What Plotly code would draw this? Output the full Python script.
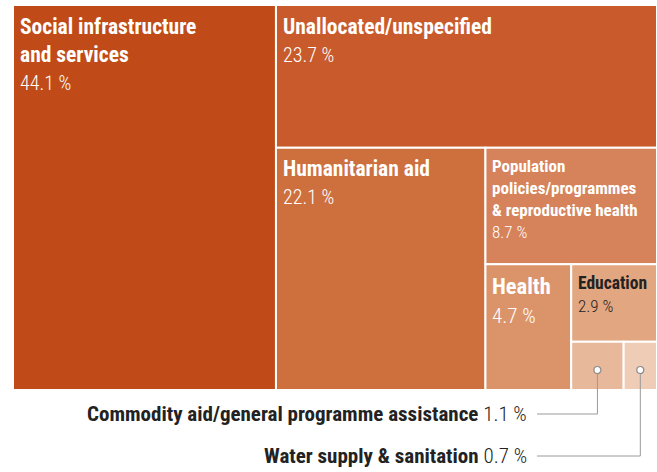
import plotly.graph_objects as go

# Shares of aid by sector (%)
sectors = [
    "Social infrastructure and services",
    "Unallocated/unspecified",
    "Humanitarian aid",
    "Population policies/programmes & reproductive health",
    "Health",
    "Education",
    "Commodity aid/general programme assistance",
    "Water supply & sanitation",
]
tile_titles = [
    "Social infrastructure<br>and services",
    "Unallocated/unspecified",
    "Humanitarian aid",
    "Population<br>policies/programmes<br>& reproductive health",
    "Health",
    "Education",
    None,
    None,
]
shares = [44.1, 23.7, 22.1, 8.7, 4.7, 2.9, 1.1, 0.7]
tile_colors = ["#C04B18", "#C95A2B", "#CE6F3E", "#D6825A",
               "#DB946A", "#E2A681", "#E7B89A", "#EECCB6"]
text_colors = ["white", "white", "white", "white", "white", "#222222", "white", "white"]
title_sizes = [21.5, 21.5, 21.5, 17, 22.5, 17.5, 12, 12]
value_sizes = [20, 20, 20, 17, 21, 17, 12, 12]
callout_sectors = [6, 7]

W, H = 657, 472
DOM_PX = (13, 5, 657, 390)  # left, top, right, bottom in pixels

FONT = "Noto Sans Condensed, Roboto Condensed, Liberation Sans Narrow, Roboto, sans-serif"


def binary_tiles(vals, x0, y0, x1, y1):
    """Binary treemap partition (same scheme as plotly's 'binary' packing)."""
    sums = [0.0]
    for v in vals:
        sums.append(sums[-1] + v)
    rects = [None] * len(vals)

    def part(i, j, value, x0, y0, x1, y1):
        if i >= j - 1:
            rects[i] = (x0, y0, x1, y1)
            return
        offset = sums[i]
        target = value / 2 + offset
        k, hi = i + 1, j - 1
        while k < hi:
            mid = (k + hi) // 2
            if sums[mid] < target:
                k = mid + 1
            else:
                hi = mid
        if target - sums[k - 1] < sums[k] - target and i + 1 < k:
            k -= 1
        left = sums[k] - offset
        right = value - left
        if (x1 - x0) > (y1 - y0):
            xk = (x0 * right + x1 * left) / value
            part(i, k, left, x0, y0, xk, y1)
            part(k, j, right, xk, y0, x1, y1)
        else:
            yk = (y0 * right + y1 * left) / value
            part(i, k, left, x0, y0, x1, yk)
            part(k, j, right, x0, yk, x1, y1)

    part(0, len(vals), sums[-1], x0, y0, x1, y1)
    return rects


def px_x(x):
    return x / W


def px_y(y):
    return 1 - y / H


fig = go.Figure(
    go.Treemap(
        ids=sectors,
        labels=sectors,
        parents=[""] * len(sectors),
        values=shares,
        sort=False,
        tiling=dict(packing="binary", pad=0),
        marker=dict(colors=tile_colors, line=dict(color="white", width=2),
                    pad=dict(t=0, l=0, r=0, b=0)),
        textinfo="none",
        pathbar=dict(visible=False),
        hoverinfo="label+value",
        domain=dict(x=[px_x(DOM_PX[0]), px_x(DOM_PX[2])],
                    y=[px_y(DOM_PX[3]), px_y(DOM_PX[1])]),
    )
)

rects = binary_tiles(shares, *DOM_PX)
shapes, annotations = [], []

# Labels in the top-left corner of each large tile
for i, title in enumerate(tile_titles):
    if not title:
        continue
    x0, y0, x1, y1 = rects[i]
    annotations.append(dict(
        xref="paper", yref="paper", x=px_x(x0 + 5), y=px_y(y0 + 6.5),
        xanchor="left", yanchor="top", align="left", showarrow=False,
        text=(f"<b>{title}</b><br>"
              f"<span style='font-size:{value_sizes[i]}px;font-weight:300'>{shares[i]:.1f} %</span>"),
        font=dict(family=FONT, size=title_sizes[i], color=text_colors[i]),
    ))

# Leader lines and labels for the two smallest tiles
label_y = [414, 456]
for idx, ly in zip(callout_sectors, label_y):
    x0, y0, x1, y1 = rects[idx]
    cx = (x0 + x1) / 2
    cy = y1 - 20
    shapes.append(dict(type="path", xref="paper", yref="paper",
                       path=f"M {px_x(537)},{px_y(ly)} L {px_x(cx)},{px_y(ly)} L {px_x(cx)},{px_y(cy)}",
                       line=dict(color="#9a9a9a", width=1)))
    r = 3.5
    shapes.append(dict(type="circle", xref="paper", yref="paper",
                       x0=px_x(cx - r), x1=px_x(cx + r), y0=px_y(cy + r), y1=px_y(cy - r),
                       fillcolor="white", line=dict(color="#8a8a8a", width=1.2)))
    annotations.append(dict(xref="paper", yref="paper", x=px_x(529), y=px_y(ly),
                            xanchor="right", yanchor="middle", showarrow=False,
                            text=(f"<b>{sectors[idx]}</b> "
                                  f"<span style='font-weight:300'>{shares[idx]:.1f} %</span>"),
                            font=dict(family=FONT, size=21, color="#222222")))

fig.update_layout(
    width=W, height=H,
    margin=dict(l=0, r=0, t=0, b=0),
    paper_bgcolor="white",
    shapes=shapes,
    annotations=annotations,
)

fig.write_html("out.html")
